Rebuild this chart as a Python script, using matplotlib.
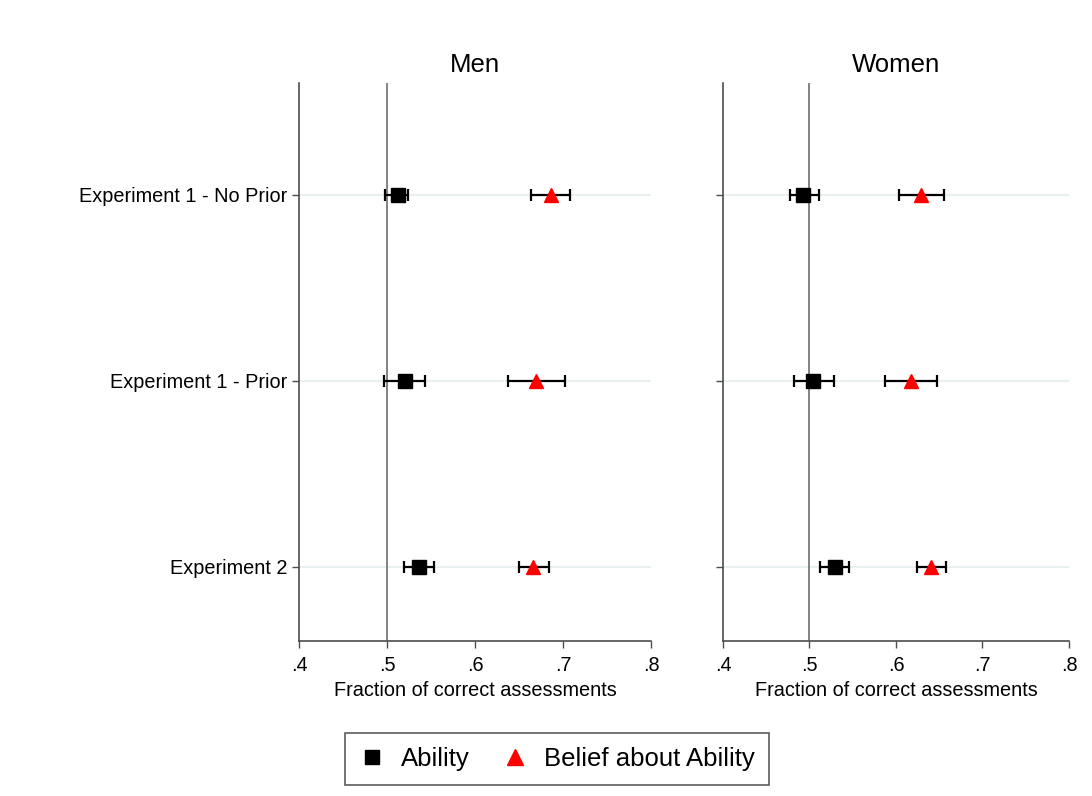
import matplotlib
matplotlib.use("Agg")
import matplotlib.pyplot as plt
from matplotlib.lines import Line2D

plt.rcParams['font.family'] = ['Liberation Sans', 'DejaVu Sans']

categories = ["Experiment 1 - No Prior", "Experiment 1 - Prior", "Experiment 2"]
panels = ["Men", "Women"]

# Men
men_ability = [0.513, 0.520, 0.536]
men_ability_lo = [0.498, 0.497, 0.519]
men_ability_hi = [0.524, 0.543, 0.553]
men_belief = [0.686, 0.669, 0.666]
men_belief_lo = [0.664, 0.637, 0.650]
men_belief_hi = [0.708, 0.702, 0.684]

# Women
women_ability = [0.493, 0.504, 0.530]
women_ability_lo = [0.478, 0.482, 0.512]
women_ability_hi = [0.511, 0.528, 0.546]
women_belief = [0.629, 0.617, 0.641]
women_belief_lo = [0.603, 0.587, 0.624]
women_belief_hi = [0.656, 0.647, 0.658]

xticks = [0.4, 0.5, 0.6, 0.7, 0.8]
xticklabels = [".4", ".5", ".6", ".7", ".8"]

data = {
    "Men": (men_ability, men_ability_lo, men_ability_hi, men_belief, men_belief_lo, men_belief_hi),
    "Women": (women_ability, women_ability_lo, women_ability_hi, women_belief, women_belief_lo, women_belief_hi),
}

fig = plt.figure(figsize=(10.92, 7.96), dpi=100)
axes_pos = {"Men": [0.2738, 0.1947, 0.3223, 0.701], "Women": [0.6621, 0.1947, 0.3168, 0.701]}

spine_col = "#4d4d4d"
ys = list(range(1, len(categories) + 1))

for p in panels:
    ax = fig.add_axes(axes_pos[p])
    a, alo, ahi, b, blo, bhi = data[p]
    for y in ys:
        ax.axhline(y, color="#e8f0f2", lw=1.5, zorder=0)
    ax.axvline(0.5, color="#7a7a7a", lw=1.3, zorder=1)
    ax.errorbar(a, ys, xerr=[[v - l for v, l in zip(a, alo)], [h - v for v, h in zip(a, ahi)]],
                fmt="s", color="black", ms=10, ecolor="black", elinewidth=1.6,
                capsize=4.5, capthick=1.6, zorder=3)
    ax.errorbar(b, ys, xerr=[[v - l for v, l in zip(b, blo)], [h - v for v, h in zip(b, bhi)]],
                fmt="none", ecolor="black", elinewidth=1.6, capsize=4.5, capthick=1.6, zorder=3)
    ax.plot(b, ys, linestyle="none", marker="^", color="#ff0000", ms=10.5, zorder=4)
    ax.set_xlim(0.4, 0.8)
    ax.set_ylim(3.4, 0.4)
    ax.set_xticks(xticks)
    ax.set_xticklabels(xticklabels, fontsize=14.3)
    ax.set_yticks(ys)
    if p == "Men":
        ax.set_yticklabels(categories, fontsize=14.3)
    else:
        ax.set_yticklabels([])
    ax.set_xlabel("Fraction of correct assessments", fontsize=14.3, labelpad=4)
    ax.set_title(p, fontsize=18.5, pad=8)
    for s in ["top", "right"]:
        ax.spines[s].set_visible(False)
    for s in ["left", "bottom"]:
        ax.spines[s].set_color(spine_col)
        ax.spines[s].set_linewidth(1.2)
    ax.tick_params(axis="both", colors=spine_col, labelcolor="black", length=5, width=1.0)
    ax.tick_params(axis="x", pad=6)

handles = [
    Line2D([], [], linestyle="none", marker="s", color="black", ms=10.5, label="Ability"),
    Line2D([], [], linestyle="none", marker="^", color="#ff0000", ms=11, label="Belief about Ability"),
]
leg = fig.legend(handles=handles, loc="center", bbox_to_anchor=(0.51, 0.0465), ncol=2,
                 fontsize=18.5, frameon=True, fancybox=False, edgecolor="#333333",
                 handletextpad=0.6, columnspacing=1.3, borderpad=0.55, handlelength=1.0)
leg.get_frame().set_linewidth(1.2)

fig.savefig("out.png", dpi=100, facecolor="white")
